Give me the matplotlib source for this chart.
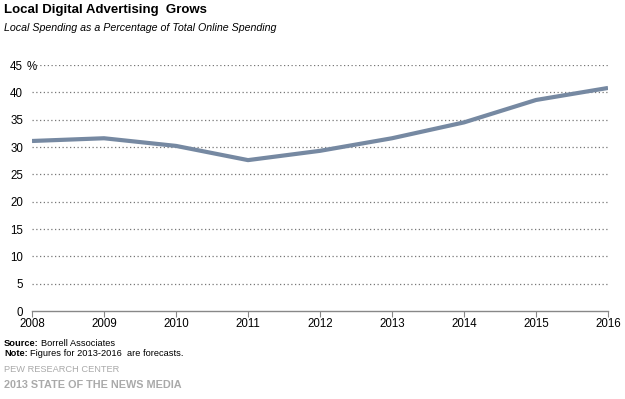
import matplotlib
matplotlib.use("Agg")
import matplotlib.pyplot as plt

plt.rcParams['font.family'] = ['Liberation Sans', 'DejaVu Sans']

years = [2008, 2009, 2010, 2011, 2012, 2013, 2014, 2015, 2016]
share = [31.1, 31.6, 30.2, 27.6, 29.3, 31.6, 34.5, 38.6, 40.8]
yticks = [0, 5, 10, 15, 20, 25, 30, 35, 40, 45]

fig = plt.figure(figsize=(6.25, 3.99), dpi=100)
ax = fig.add_axes([32/625, 1-311/399, 576/625, 246/399])

ax.plot(years, share, color='#7689a2', lw=3, solid_capstyle='butt', zorder=3)

ax.set_xlim(2008, 2016)
ax.set_ylim(0, 45)
ax.set_xticks(years)
ax.set_xticklabels([str(y) for y in years], fontsize=8.3)
ax.set_yticks(yticks)
ax.set_yticklabels([str(v) for v in yticks], fontsize=8.3)
ax.tick_params(axis='y', length=0, pad=6.5)
ax.tick_params(axis='x', length=4, color='#888888', pad=1)

for v in yticks[1:-1]:
    ax.axhline(v, color='#777777', lw=0.9, ls=(0, (1, 2)), zorder=1)
ax.axhline(45, xmin=4/576, color='#777777', lw=0.9, ls=(0, (1, 2)), zorder=1)

for s in ['top', 'right', 'left']:
    ax.spines[s].set_visible(False)
ax.spines['bottom'].set_color('#888888')
ax.spines['bottom'].set_linewidth(1)

# percent sign next to the top label
ax.text(-5/576, 45, '%', transform=ax.get_yaxis_transform(), fontsize=8.3,
        va='center_baseline', ha='left')

fig.text(4/625, 1-10/399, 'Local Digital Advertising  Grows', fontsize=9.5,
         fontweight='bold', va='center', ha='left')
fig.text(4/625, 1-28/399, 'Local Spending as a Percentage of Total Online Spending',
         fontsize=7.7, style='italic', va='center', ha='left')

src = fig.text(4/625, 1-343/399, 'Source:', fontsize=6.7, fontweight='bold',
               va='center', ha='left')
fig.canvas.draw()
plt.annotate('Borrell Associates', xy=(1, 0.5), xycoords=src, xytext=(1.5, 0),
             textcoords='offset points', fontsize=6.7, va='center', ha='left')
note = fig.text(4/625, 1-354/399, 'Note:', fontsize=6.7, fontweight='bold',
                va='center', ha='left')
plt.annotate('Figures for 2013-2016  are forecasts.', xy=(1, 0.5), xycoords=note,
             xytext=(1.5, 0), textcoords='offset points', fontsize=6.7,
             va='center', ha='left')

fig.text(4/625, 1-370/399, 'PEW RESEARCH CENTER', fontsize=6.7, color='#aaaaaa',
         va='center', ha='left')
fig.text(4/625, 1-385/399, '2013 STATE OF THE NEWS MEDIA', fontsize=7.8,
         fontweight='bold', color='#aaaaaa', va='center', ha='left')

fig.savefig('out.png', dpi=100)
